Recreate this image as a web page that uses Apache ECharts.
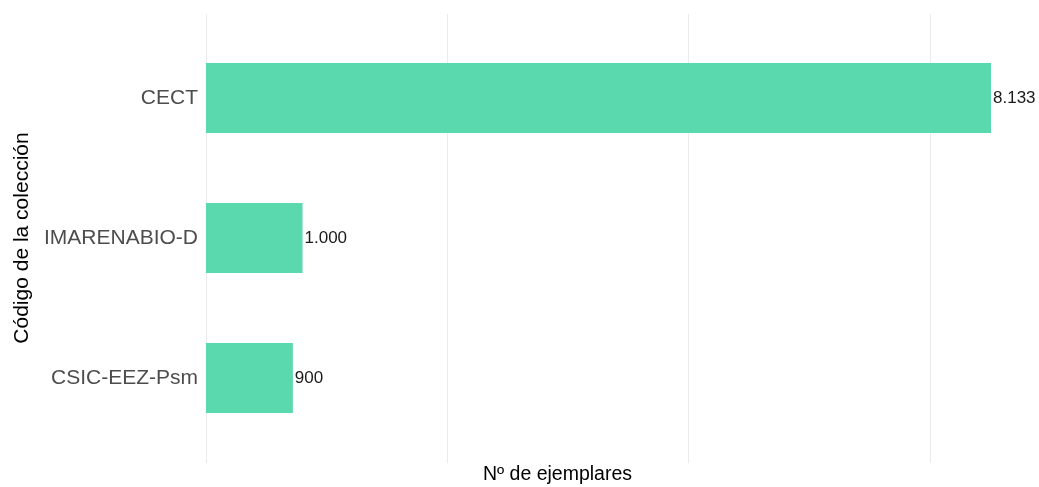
<!DOCTYPE html>
<html>
<head>
<meta charset="utf-8">
<script src="https://cdn.jsdelivr.net/npm/echarts@6/dist/echarts.min.js"></script>
<style>html,body{margin:0;padding:0;background:#fff}#c{width:1039px;height:487px}</style>
</head>
<body>
<div id="c"></div>
<script>
const categories = ['CECT', 'IMARENABIO-D', 'CSIC-EEZ-Psm'];
const values = [8133, 1000, 900];
const gridTicks = [0, 2500, 5000, 7500];

const FONT = "'Liberation Sans', Arial, sans-serif";
const XMAX = 8568;

function fmt(v) {
  return String(v).replace(/\B(?=(\d{3})+(?!\d))/g, '.');
}

const chart = echarts.init(document.getElementById('c'));
chart.setOption({
  animation: false,
  backgroundColor: '#ffffff',
  grid: [
    { left: 206, right: 6, top: 14, height: 449, containLabel: false, outerBoundsMode: 'none' },
    { left: 206, right: 6, top: 28, height: 420, containLabel: false, outerBoundsMode: 'none' }
  ],
  xAxis: [
    {
      gridIndex: 0, type: 'value', min: 0, max: XMAX, interval: 2500,
      axisLine: { show: false }, axisLabel: { show: false },
      axisTick: { show: false, customValues: gridTicks },
      splitLine: { show: true, lineStyle: { color: '#ebebeb', width: 1 } },
      name: 'Nº de ejemplares', nameLocation: 'middle', nameGap: 2,
      nameTextStyle: { fontFamily: FONT, fontSize: 19.5, color: '#000000', padding: [0, 124, 0, 0] }
    },
    {
      gridIndex: 1, type: 'value', min: 0, max: XMAX, show: false,
      splitLine: { show: false }
    }
  ],
  yAxis: [
    { gridIndex: 0, type: 'value', show: false, min: 0, max: 1, splitLine: { show: false } },
    {
      gridIndex: 1, type: 'category', data: categories, inverse: true,
      axisLine: { show: false }, axisTick: { show: false },
      splitLine: { show: false },
      axisLabel: { fontFamily: FONT, fontSize: 21, color: '#4d4d4d', margin: 8 },
      name: 'Código de la colección', nameLocation: 'middle', nameGap: 170, nameRotate: 90,
      nameTextStyle: { fontFamily: FONT, fontSize: 21, color: '#000000' }
    }
  ],
  series: [
    {
      type: 'bar', xAxisIndex: 1, yAxisIndex: 1,
      data: values, barWidth: 70,
      itemStyle: { color: '#5AD8AE' },
      label: {
        show: true, position: 'right', distance: 2,
        fontFamily: FONT, fontSize: 17, color: '#1a1a1a',
        formatter: p => fmt(p.value)
      }
    }
  ]
});
</script>
</body>
</html>
